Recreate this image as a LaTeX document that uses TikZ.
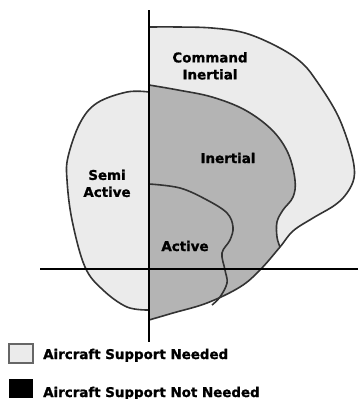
\documentclass[tikz,border=0pt]{standalone}
\usepackage{fontspec}
\setmainfont{DejaVu Sans}[BoldFeatures={FakeBold=1.2}]
\usepackage{tikz}
\usetikzlibrary{positioning}

\definecolor{lightzone}{HTML}{EBEBEB}
\definecolor{darkzone}{HTML}{B4B4B4}
\definecolor{rim}{HTML}{333333}

% outline of the command inertial zone
\newcommand{\cmdrim}{plot[smooth, tension=.6] coordinates {(149,27) (178,27) (212,28) (245,33) (278,47) (302,63) (318,83) (335,110) (345,133) (353,160) (354,178) (347,193) (335,205) (313,218) (293,231) (280,247) (260,270) (240,287) (207,303) (173,313) (149,320)}}

\tikzset{
  zonerim/.style = {draw=rim, line width=1.6pt},
  zonetext/.style = {font=\bfseries\fontsize{13.4}{17}\selectfont, align=center, inner sep=0pt},
  keybox/.style = {minimum width=24pt, minimum height=19pt, inner sep=0pt},
}

\begin{document}
\begin{tikzpicture}[x=1pt, y=-1pt]
        \useasboundingbox (0,0) rectangle (358,399);
        % right half zones
        \begin{scope}
          \clip \cmdrim -- cycle;
          \fill[lightzone] (140,0) rectangle (360,340);
          \fill[darkzone] plot[smooth, tension=.6] coordinates {(149,85) (178,90) (212,97) (245,110) (272,130) (288,153) (295,180) (293,197) (283,210) (277,222) (277,237) (280,247)} -- (330,260) -- (330,340) -- (140,340) -- cycle;
        \end{scope}
        \draw[zonerim] \cmdrim;
        \draw[zonerim] plot[smooth, tension=.6] coordinates {(149,85) (178,90) (212,97) (245,110) (272,130) (288,153) (295,180) (293,197) (283,210) (277,222) (277,237) (280,247)};
        \draw[zonerim] plot[smooth, tension=.6] coordinates {(149,184) (180,188) (207,200) (227,213) (233,227) (230,240) (222,253) (225,270) (227,283) (220,297) (212,305)};
        % left half zone
        \draw[zonerim, fill=lightzone] plot[smooth, tension=.6] coordinates {(149,92) (127,92) (97,103) (80,123) (68,157) (67,180) (72,220) (85,267) (103,290) (127,307) (149,310)};
        % axes
        \coordinate (ytop) at (149,10);
        \coordinate (ybot) at (149,342);
        \coordinate (xleft) at (40,269);
        \coordinate (xright) at (358,269);
        \draw[line width=2pt] (ytop) -- (ybot);
        \draw[line width=2pt] (xleft) -- (xright);
        % zone names
        \node[zonetext, anchor=north] (cmdname) at (210,52) {Command\\Inertial};
        \node[zonetext, anchor=base] (inertname) at (228,163) {Inertial};
        \node[zonetext, anchor=north] (seminame) at (107,169.5) {Semi\\Active};
        \node[zonetext, anchor=base] (activename) at (185,251) {Active};
        % legend
        \node[keybox, draw=gray!80!black, line width=2pt, fill=lightzone] (needbox) at (21,353.5) {};
        \node[keybox, fill=black] (notbox) at (21,388) {};
        \node[zonetext, anchor=base west] (needtext) at (43,359) {Aircraft Support Needed};
        \node[zonetext, anchor=base west] (nottext) at (43,397) {Aircraft Support Not Needed};
      \end{tikzpicture}
\end{document}
